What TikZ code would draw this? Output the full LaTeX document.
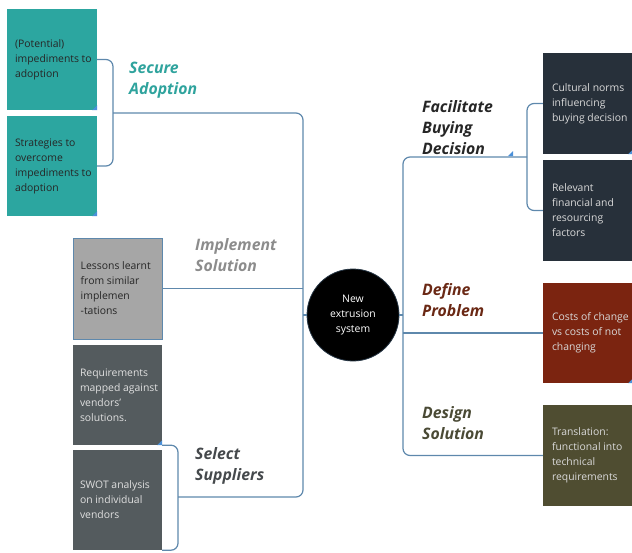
\documentclass[tikz,border=0pt]{standalone}
\usepackage{fontspec}
\setmainfont{Open Sans}
\definecolor{linec}{HTML}{5E88AC}
\definecolor{tealbox}{HTML}{2CA6A0}
\definecolor{tealtxt}{HTML}{2FA39D}
\definecolor{greybox}{HTML}{A6A6A6}
\definecolor{impltxt}{HTML}{8C8C8C}
\definecolor{slatebox}{HTML}{545B5E}
\definecolor{selecttxt}{HTML}{45494C}
\definecolor{navybox}{HTML}{27303A}
\definecolor{facilitxt}{HTML}{262626}
\definecolor{brownbox}{HTML}{7B2410}
\definecolor{browntxt}{HTML}{6A2814}
\definecolor{olivebox}{HTML}{4F4D31}
\definecolor{olivetxt}{HTML}{4A4A35}
\definecolor{foldc}{HTML}{4A90D9}
\begin{document}
\begin{tikzpicture}[x=1pt,y=-1pt,
  conn/.style={draw=linec, line width=1.2pt, rounded corners=7pt},
  card/.style={rectangle, inner sep=0pt, minimum width=90pt, minimum height=101pt},
  cardtxt/.style={anchor=west, align=left, inner sep=0pt,
    font=\fontsize{10.4}{15}\selectfont},
  heading/.style={anchor=west, align=left, inner sep=0pt,
    font=\fontsize{15.8}{21}\selectfont\bfseries\itshape},
  fold/.style={fill=foldc, draw=none}]
\useasboundingbox (0,0) rectangle (632,552);
\clip (0,0) rectangle (632,552);

% ---------- cards ----------
\node[card, fill=tealbox] (t1) at (52,59.5) {};
\node[card, fill=tealbox, minimum height=100pt] (t2) at (52,166) {};
\node[card, fill=greybox, draw=linec, line width=1pt, minimum width=89pt] (les) at (117.5,288.5) {};
\node[card, fill=slatebox, minimum width=89pt, minimum height=100pt] (req) at (117.5,395) {};
\node[card, fill=slatebox, minimum width=89pt, minimum height=100pt] (swot) at (117.5,500) {};
\node[card, fill=navybox] (cul) at (588,103.5) {};
\node[card, fill=navybox] (rel) at (588,210.5) {};
\node[card, fill=brownbox, minimum height=100pt] (cost) at (588,333) {};
\node[card, fill=olivebox] (trans) at (588,455.5) {};

% ---------- card texts (clipped to their cards) ----------
\begin{scope}\clip (t1.north west) rectangle (t1.south east);
\node[cardtxt, text=black!85] at ([xshift=8pt]t1.west) {(Potential)\\impediments to\\adoption};
\end{scope}
\begin{scope}\clip (t2.north west) rectangle (t2.south east);
\node[cardtxt, text=black!85] at ([xshift=8pt]t2.west) {Strategies to\\overcome\\impediments to\\adoption};
\end{scope}
\begin{scope}\clip (les.north west) rectangle (les.south east);
\node[cardtxt, text=black!85] at ([xshift=8pt]les.west) {Lessons learnt\\from similar\\implemen\\-tations};
\end{scope}
\begin{scope}\clip (req.north west) rectangle (req.south east);
\node[cardtxt, text=white!88!black] at ([xshift=7pt]req.west) {Requirements\\mapped against\\vendors'\\solutions.};
\end{scope}
\begin{scope}\clip (swot.north west) rectangle (swot.south east);
\node[cardtxt, text=white!88!black] at ([xshift=7pt]swot.west) {SWOT analysis\\on individual\\vendors};
\end{scope}
\node[cardtxt, text=white!85!black] at ([xshift=9pt]cul.west) {Cultural norms\\influencing\\buying decision};
\node[cardtxt, text=white!85!black] at ([xshift=9pt]rel.west) {Relevant\\financial and\\resourcing\\factors};
\node[cardtxt, text=white!85!black] at ([xshift=9pt]cost.west) {Costs of change\\vs costs of not\\changing};
\node[cardtxt, text=white!85!black] at ([xshift=9pt]trans.west) {Translation:\\functional into\\technical\\requirements};

% ---------- central topic ----------
\node[circle, fill=black, draw=linec!40!black, line width=0.8pt, minimum size=92pt,
  inner sep=0pt, text=white, align=center, font=\fontsize{10.4}{15}\selectfont]
  (hub) at (353,315) {New\\extrusion\\system};

% ---------- branch headings ----------
\node[heading, text=tealtxt] (hsec) at (129,80.5) {Secure\\Adoption};
\node[heading, text=impltxt] (himp) at (195,255.5) {Implement\\Solution};
\node[heading, text=selecttxt] (hsel) at (195,466) {Select\\Suppliers};
\begin{scope}\clip (410,85) rectangle (520,154);
\node[heading, text=facilitxt] (hfac) at (422,128) {Facilitate\\Buying\\Decision};
\end{scope}
\node[heading, text=browntxt] (hdef) at (422,300.5) {Define\\Problem};
\node[heading, text=olivetxt] (hdes) at (422,423.5) {Design\\Solution};

% ---------- junction points ----------
\coordinate (bA) at (113,113);
\coordinate (lt) at (303,113);
\coordinate (lb) at (303,497);
\coordinate (bB) at (178,497);
\coordinate (rt) at (403,157);
\coordinate (rb) at (403,455.5);
\coordinate (bC) at (527,157);

% ---------- left side connectors ----------
\draw[conn] (t1.east) -- (t1.east -| bA) -- (t2.east -| bA) -- (t2.east);
\draw[conn] (bA) -- (lt) -- (lb) -- (bB);
\draw[conn] (req.south east) -- (req.south east -| bB) -- (swot.south east -| bB) -- (swot.south east);
\draw[conn] (les.east) -- (les.east -| lt);
\draw[conn] (hub.west) -- (hub.west -| lt);

% ---------- right side connectors ----------
\draw[conn] (bC) -- (rt) -- (rb) -- (trans.west);
\draw[conn] (hub.east) -- (hub.east -| rt);
\draw[conn] (cost.west -| rt) -- (cost.west);
\draw[conn] (cul.west) -- (cul.west -| bC) -- (rel.west -| bC) -- (rel.west);

% ---------- small corner folds ----------
\foreach \c in {t1.south east, t2.south east, req.south east, cul.south east, cost.south east}
  \fill[fold] (\c) -- ++(-5,0) -- ++(5,-5) -- cycle;
\fill[fold] (513,156) -- ++(-5,0) -- ++(5,-5) -- cycle;
\end{tikzpicture}
\end{document}
